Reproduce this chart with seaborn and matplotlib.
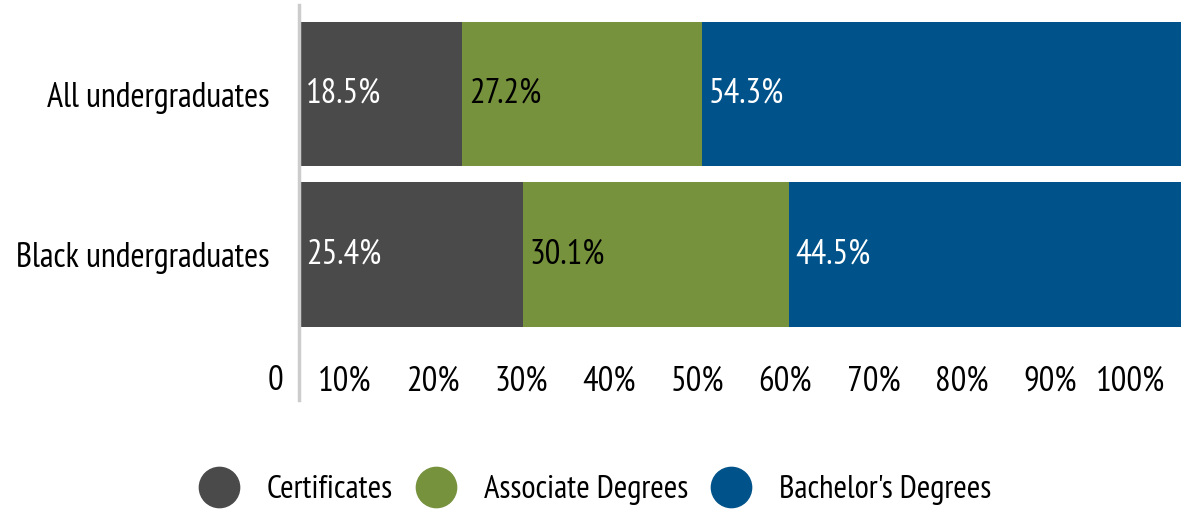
import pandas as pd
import seaborn as sns
import matplotlib.pyplot as plt
import matplotlib.transforms as mtransforms
from matplotlib.lines import Line2D
from matplotlib import font_manager

sns.set_style('white')
installed = set(f.name for f in font_manager.fontManager.ttflist)
fams = [f for f in ['PT Sans Narrow', 'Archivo Narrow', 'Asap Condensed'] if f in installed]
plt.rcParams['font.family'] = fams[:1] + ['DejaVu Sans']
plt.rcParams['text.color'] = 'black'
plt.rcParams['xtick.color'] = 'black'
plt.rcParams['ytick.color'] = 'black'

groups = ['All undergraduates', 'Black undergraduates']
series = ['Certificates', 'Associate Degrees', "Bachelor's Degrees"]
certificates = [18.5, 25.4]
associate = [27.2, 30.1]
bachelors = [54.3, 44.5]
colors = ['#4a4a4a', '#76923c', '#00538a']
label_colors = ['white', 'black', 'white']
tick_vals = [0, 10, 20, 30, 40, 50, 60, 70, 80, 90, 100]
tick_labels = ['0', '10%', '20%', '30%', '40%', '50%', '60%', '70%', '80%', '90%', '100%']

df = pd.DataFrame({series[0]: certificates, series[1]: associate, series[2]: bachelors}, index=groups)

fig = plt.figure(figsize=(11.83, 5.23), dpi=100)
ax = fig.add_axes([299/1183, 1 - 400/523, 882/1183, 395/523])

df.plot(kind='barh', stacked=True, color=colors, width=0.9, ax=ax, legend=False, linewidth=0)
ax.set_xlim(0, 100)
ax.set_ylim(1.907, -0.555)

# data labels at the left of each segment
for cont, lc in zip(ax.containers, label_colors):
    for rect, v in zip(cont.patches, cont.datavalues):
        ax.annotate(f'{v:.1f}%', (rect.get_x(), rect.get_y() + rect.get_height() / 2),
                    xytext=(5, 0), textcoords='offset points', ha='left', va='center',
                    fontsize=25, color=lc)

ax.set_xticks(tick_vals)
ax.set_xticklabels(tick_labels, fontsize=25, ha='right')
ax.tick_params(axis='x', length=0, pad=-25)
offset = mtransforms.ScaledTranslation(-0.16, 0, fig.dpi_scale_trans)
for lab in ax.get_xticklabels():
    lab.set_transform(lab.get_transform() + offset)
ax.tick_params(axis='y', length=0, pad=21, labelsize=24.5)
ax.set_ylabel('')

for s in ['top', 'right', 'bottom']:
    ax.spines[s].set_visible(False)
ax.spines['left'].set_color('#cccccc')
ax.spines['left'].set_linewidth(2.5)

handles = [Line2D([], [], marker='o', linestyle='', markersize=29, color=c) for c in colors]
fig.legend(handles, series, loc='center', bbox_to_anchor=(597/1183, 1 - 490/523), ncol=3,
           frameon=False, fontsize=23.5, handlelength=1.0, handletextpad=0.97, columnspacing=0.82)

fig.savefig('out.png', dpi=100)
